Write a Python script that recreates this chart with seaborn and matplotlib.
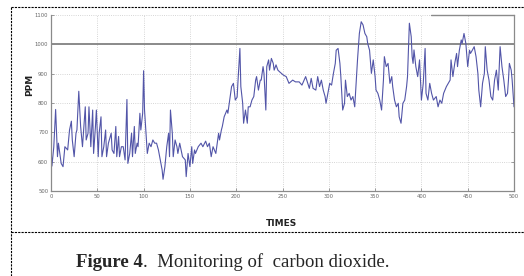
import numpy as np
import pandas as pd
import matplotlib
matplotlib.use("Agg")
import matplotlib.pyplot as plt
from matplotlib.lines import Line2D
import seaborn as sns

# sample times and CO2 readings
times = [0, 1, 3, 5, 7, 8, 11, 13, 15, 18, 20, 22, 23, 25, 27, 28, 30, 32, 34, 35,
         37, 38, 40, 41, 43, 45, 46, 48, 49, 51, 52, 54, 55, 57, 59, 60, 62, 65, 66, 68,
         70, 71, 73, 74, 76, 78, 80, 82, 83, 85, 87, 88, 90, 91, 93, 94, 96, 97, 99, 100,
         101, 103, 104, 106, 108, 110, 112, 114, 116, 118, 120, 121, 123, 125, 127, 128, 129, 131, 132, 134,
         136, 137, 139, 142, 145, 146, 148, 150, 152, 153, 155, 156, 159, 162, 164, 167, 169, 171, 173, 175,
         178, 181, 182, 184, 185, 187, 190, 191, 193, 195, 197, 199, 201, 202, 204, 205, 207, 208, 210, 212,
         213, 215, 217, 219, 221, 222, 224, 226, 227, 229, 230, 232, 233, 235, 236, 238, 240, 241, 243, 245,
         247, 251, 254, 257, 261, 264, 268, 271, 275, 279, 281, 283, 286, 288, 290, 292, 294, 296, 297, 299,
         301, 303, 305, 307, 308, 310, 312, 313, 315, 317, 318, 320, 322, 324, 326, 328, 330, 331, 333, 335,
         337, 339, 341, 342, 344, 346, 348, 350, 351, 353, 355, 357, 359, 360, 362, 364, 366, 368, 369, 371,
         373, 375, 376, 378, 380, 382, 384, 385, 387, 389, 390, 391, 392, 394, 396, 398, 400, 402, 404, 405,
         407, 409, 411, 413, 416, 418, 420, 422, 424, 427, 431, 432, 434, 436, 438, 439, 441, 443, 444, 446,
         448, 450, 452, 453, 455, 457, 459, 461, 462, 464, 466, 468, 469, 471, 473, 475, 477, 479, 481, 483,
         485, 487, 489, 491, 493, 494, 495, 497, 498, 500]
ppm = [650, 585, 650, 778, 617, 663, 594, 583, 651, 640, 708, 738, 674, 617, 697, 708, 840, 720, 651, 697,
       787, 674, 697, 787, 651, 776, 628, 720, 776, 617, 697, 753, 617, 651, 708, 617, 663, 697, 640, 628,
       720, 617, 686, 617, 651, 651, 606, 812, 594, 628, 697, 617, 720, 628, 663, 651, 765, 708, 765, 910,
       776, 674, 628, 663, 651, 674, 663, 663, 640, 606, 572, 540, 583, 651, 697, 617, 776, 697, 617, 674,
       651, 628, 663, 617, 606, 549, 628, 583, 651, 594, 640, 628, 651, 663, 651, 670, 651, 663, 617, 651,
       628, 697, 674, 708, 720, 753, 776, 765, 810, 856, 867, 810, 820, 878, 986, 856, 799, 731, 776, 731,
       787, 787, 810, 822, 878, 890, 844, 878, 878, 924, 901, 776, 924, 947, 912, 952, 935, 912, 930, 912,
       906, 895, 890, 867, 878, 872, 872, 861, 890, 850, 884, 850, 844, 890, 856, 878, 844, 822, 799, 833,
       867, 861, 901, 935, 980, 986, 935, 890, 776, 799, 878, 822, 833, 810, 822, 787, 890, 947, 1037, 1077,
       1066, 1037, 1026, 1003, 980, 901, 947, 890, 844, 833, 810, 776, 878, 958, 924, 935, 867, 890, 856, 810,
       787, 799, 753, 731, 799, 810, 856, 890, 1072, 1026, 958, 935, 981, 924, 890, 947, 810, 867, 986, 833,
       810, 867, 833, 810, 822, 787, 810, 799, 833, 856, 878, 947, 890, 935, 969, 924, 980, 1015, 1003, 1037,
       1003, 924, 980, 969, 980, 992, 958, 901, 844, 787, 867, 901, 992, 912, 878, 822, 810, 878, 912, 844,
       992, 924, 878, 822, 833, 878, 935, 912, 878, 787]

x_ticks = [0, 50, 100, 150, 200, 250, 300, 350, 400, 450, 500]
y_ticks = [500, 600, 700, 800, 900, 1000, 1100]
threshold = 1000

df = pd.DataFrame({"TIMES": times, "PPM": ppm})

sns.set_style("white")
plt.rcParams['font.family'] = ['DejaVu Sans']

fig = plt.figure(figsize=(5.24, 2.76), dpi=100)
ax = fig.add_axes([51 / 524, 1 - 191 / 276, 463 / 524, 176 / 276])

sns.lineplot(data=df, x="TIMES", y="PPM", ax=ax, color="#5255a8", linewidth=0.8)
ax.axhline(threshold, color="#8a8a8a", linewidth=1.4, zorder=1)
ax.axhline(1100, xmin=0.82, xmax=1.0, color="#8a8a8a", linewidth=1.0, clip_on=False)

ax.set_xlim(0, 500)
ax.set_ylim(500, 1100)
ax.set_xticks(x_ticks)
ax.set_yticks(y_ticks)
ax.grid(True, color="#c8c8c8", linestyle=":", linewidth=0.6)
ax.tick_params(axis="both", direction="in", length=2.5, width=0.5, colors="#777777",
               labelsize=3.8, labelcolor="#666666", pad=2, right=True, left=True, bottom=True)
for side in ["left", "bottom", "right"]:
    ax.spines[side].set_color("#8a8a8a")
    ax.spines[side].set_linewidth(0.9)
ax.spines["top"].set_visible(False)

ax.set_xlabel("")
ax.set_ylabel("")
fig.text(282 / 524, 1 - 223 / 276, "TIMES", ha="center", va="center",
         fontsize=6.5, fontweight="bold", color="#222222")
fig.text(30 / 524, 1 - 85 / 276, "PPM", ha="center", va="center", rotation=90,
         fontsize=6.5, fontweight="bold", color="#222222")

# dashed frame of the scanned figure
dash = dict(color="black", linewidth=0.8, linestyle=(0, (2, 1)), transform=fig.transFigure)
fig.add_artist(Line2D([11 / 524, 11 / 524], [0, 1 - 7 / 276], **dash))
fig.add_artist(Line2D([11 / 524, 1], [1 - 7 / 276, 1 - 7 / 276], **dash))
fig.add_artist(Line2D([11 / 524, 1], [1 - 232 / 276, 1 - 232 / 276], **dash))

cap_y = 1 - 267 / 276
t1 = fig.text(76 / 524, cap_y, "Figure 4", ha="left", va="baseline",
              fontsize=13.5, fontweight="bold", family="Liberation Serif")
fig.canvas.draw()
bb = t1.get_window_extent()
fig.text(bb.x1 / 524, cap_y, ".  Monitoring of  carbon dioxide.", ha="left", va="baseline",
         fontsize=13.5, family="Liberation Serif")

fig.savefig("out.png", dpi=100)
